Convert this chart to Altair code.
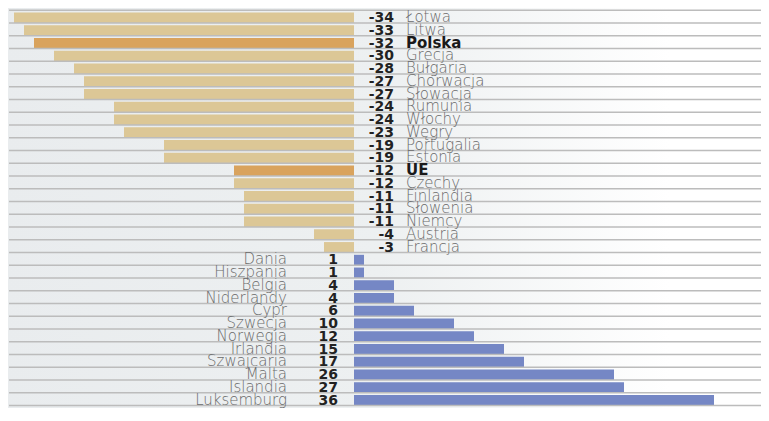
import altair as alt
import pandas as pd

countries = ["Łotwa", "Litwa", "Polska", "Grecja", "Bułgaria", "Chorwacja", "Słowacja",
             "Rumunia", "Włochy", "Węgry", "Portugalia", "Estonia", "UE", "Czechy",
             "Finlandia", "Słowenia", "Niemcy", "Austria", "Francja", "Dania", "Hiszpania",
             "Belgia", "Niderlandy", "Cypr", "Szwecja", "Norwegia", "Irlandia", "Szwajcaria",
             "Malta", "Islandia", "Luksemburg"]
values = [-34, -33, -32, -30, -28, -27, -27, -24, -24, -23, -19, -19, -12, -12, -11, -11,
          -11, -4, -3, 1, 1, 4, 4, 6, 10, 12, 15, 17, 26, 27, 36]
highlight = ["Polska", "UE"]

rows = []
for i, (c, v) in enumerate(zip(countries, values)):
    grp = "hl" if c in highlight else ("neg" if v < 0 else "pos")
    rows.append({"country": c, "value": v, "label": str(v), "grp": grp,
                 "top": i + 0.18, "bottom": i + 1.0, "base": i + 0.93,
                 "hl": c in highlight})
df = pd.DataFrame(rows)
grid_df = pd.DataFrame({"g": list(range(len(countries) + 1))})

W, H = 753, 395.2
xs = alt.Scale(domain=[-34.6, 40.7], nice=False, zero=False)
ys = alt.Scale(domain=[0, 31], nice=False, zero=False, reverse=True)

base = alt.Chart(df)

bg = alt.Chart(pd.DataFrame({"a": [0]})).mark_rect(
    fill=alt.LinearGradient(
        gradient="linear", x1=0, x2=1, y1=0, y2=0,
        stops=[alt.GradientStop(offset=0, color="#e9ecee"),
               alt.GradientStop(offset=0.5, color="#edf0f1"),
               alt.GradientStop(offset=0.88, color="#ffffff"),
               alt.GradientStop(offset=1, color="#ffffff")]),
    strokeWidth=0,
).encode(x=alt.value(-8), x2=alt.value(W), y=alt.value(-3), y2=alt.value(H + 3))

grid = alt.Chart(grid_df).mark_rule(color="#bcbcbc", strokeWidth=1.4).encode(
    x=alt.value(1), x2=alt.value(W), y=alt.Y("g:Q", scale=ys, axis=None))

bars = base.mark_rect().encode(
    x=alt.X("value:Q", scale=xs, axis=None),
    x2=alt.datum(0),
    y=alt.Y("top:Q", scale=ys, axis=None),
    y2="bottom:Q",
    color=alt.Color("grp:N", scale=alt.Scale(domain=["neg", "hl", "pos"],
                                             range=["#dcc796", "#d9a35d", "#7587c5"]),
                    legend=None),
)

def txt(filt, dx, align, weight, color, size=14, field="label"):
    return base.transform_filter(filt).mark_text(
        dx=dx, align=align, baseline="alphabetic", font="DejaVu Sans",
        fontWeight=weight, fontSize=size, color=color,
    ).encode(x=alt.datum(0, scale=xs), y=alt.Y("base:Q", scale=ys), text=f"{field}:N")

neg_val = txt("datum.value < 0", 40, "right", "bold", "#222222")
neg_name = txt("datum.value < 0 && !datum.hl", 52, "left", 300, "#6a6a6a", 15, "country")
neg_hl = txt("datum.hl", 52, "left", "bold", "#1a1a1a", 15, "country")
pos_name = txt("datum.value > 0", -67, "right", 300, "#6a6a6a", 15, "country")
pos_val = txt("datum.value > 0", -16, "right", "bold", "#222222")

chart = alt.layer(bg, bars, grid, neg_val, neg_name, neg_hl, pos_name, pos_val).properties(
    width=W, height=H,
    autosize=alt.AutoSizeParams(type="none"),
    padding={"left": 0, "top": 2.3, "right": 0, "bottom": 2.5},
).configure_view(strokeWidth=0).configure(background="#ffffff")

chart.save("out.html", embed_options={"renderer": "svg", "actions": False})
